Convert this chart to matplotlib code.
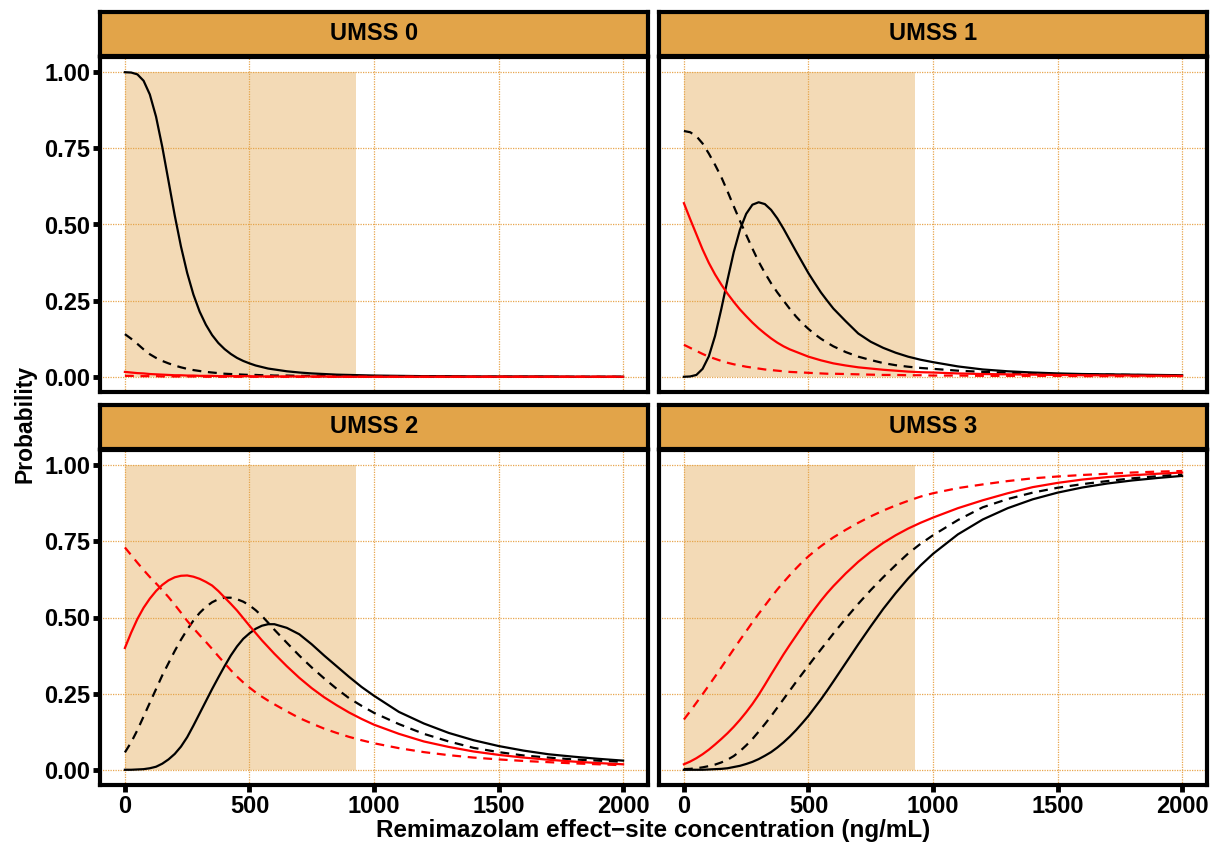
import matplotlib
matplotlib.use("Agg")
import matplotlib.pyplot as plt

plt.rcParams['font.family'] = ['Liberation Sans', 'DejaVu Sans']

# concentration grid (ng/mL)
conc = [0, 25, 50, 75, 100, 125, 150, 175, 200, 225, 250, 275, 300, 325, 350, 375, 400,
        425, 450, 475, 500, 525, 550, 575, 600, 650, 700, 750, 800, 850, 900, 950, 1000,
        1100, 1200, 1300, 1400, 1500, 1600, 1700, 1800, 1900, 2000]

# UMSS 0
bs0 = [1.000, 0.999, 0.993, 0.972, 0.927, 0.854, 0.755, 0.643, 0.530, 0.428, 0.341, 0.270, 0.214,
       0.171, 0.137, 0.111, 0.091, 0.075, 0.062, 0.052, 0.044, 0.037, 0.032, 0.027, 0.024,
       0.018, 0.014, 0.011, 0.009, 0.007, 0.006, 0.005, 0.004,
       0.003, 0.002, 0.002, 0.001, 0.001, 0.001, 0.001, 0.000, 0.000, 0.000]
bd0 = [0.140, 0.125, 0.108, 0.090, 0.074, 0.062, 0.052, 0.044, 0.037, 0.031, 0.026, 0.022, 0.019,
       0.016, 0.014, 0.012, 0.010, 0.009, 0.008, 0.007, 0.006, 0.006, 0.005, 0.005, 0.004,
       0.004, 0.003, 0.003, 0.002, 0.002, 0.001, 0.001, 0.001,
       0.001, 0.000, 0.000, 0.000, 0.000, 0.000, 0.000, 0.000, 0.000, 0.000]
rs0 = [0.016, 0.014, 0.012, 0.011, 0.009, 0.008, 0.007, 0.006, 0.005, 0.005, 0.004, 0.004, 0.003,
       0.003, 0.003, 0.002, 0.002, 0.002, 0.002, 0.002, 0.002, 0.001, 0.001, 0.001, 0.001,
       0.001, 0.001, 0.001, 0.001, 0.000, 0.000, 0.000, 0.000,
       0.000, 0.000, 0.000, 0.000, 0.000, 0.000, 0.000, 0.000, 0.000, 0.000]
rd0 = [0.003, 0.003, 0.002, 0.002, 0.002, 0.002, 0.001, 0.001, 0.001, 0.001, 0.001, 0.001, 0.001,
       0.000, 0.000, 0.000, 0.000, 0.000, 0.000, 0.000, 0.000, 0.000, 0.000, 0.000, 0.000,
       0.000, 0.000, 0.000, 0.000, 0.000, 0.000, 0.000, 0.000,
       0.000, 0.000, 0.000, 0.000, 0.000, 0.000, 0.000, 0.000, 0.000, 0.000]

# UMSS 1
bs1 = [0.000, 0.001, 0.006, 0.026, 0.067, 0.134, 0.222, 0.318, 0.409, 0.483, 0.535, 0.565, 0.573,
       0.567, 0.548, 0.520, 0.486, 0.449, 0.412, 0.376, 0.340, 0.308, 0.277, 0.250, 0.224,
       0.182, 0.142, 0.115, 0.095, 0.079, 0.066, 0.056, 0.048,
       0.034, 0.024, 0.018, 0.014, 0.011, 0.009, 0.008, 0.007, 0.006, 0.005]
bd1 = [0.807, 0.803, 0.790, 0.766, 0.733, 0.696, 0.656, 0.609, 0.560, 0.512, 0.466, 0.421, 0.378,
       0.341, 0.307, 0.277, 0.250, 0.223, 0.198, 0.176, 0.157, 0.140, 0.125, 0.112, 0.100,
       0.081, 0.066, 0.055, 0.045, 0.038, 0.033, 0.029, 0.026,
       0.020, 0.016, 0.013, 0.011, 0.009, 0.008, 0.007, 0.006, 0.005, 0.004]
rs1 = [0.570, 0.518, 0.468, 0.418, 0.374, 0.336, 0.303, 0.273, 0.246, 0.221, 0.199, 0.178, 0.159,
       0.142, 0.126, 0.112, 0.100, 0.090, 0.082, 0.074, 0.066, 0.060, 0.054, 0.049, 0.044,
       0.037, 0.031, 0.027, 0.023, 0.020, 0.017, 0.015, 0.014,
       0.011, 0.009, 0.008, 0.007, 0.006, 0.005, 0.0045, 0.004, 0.0035, 0.003]
rd1 = [0.105, 0.095, 0.085, 0.075, 0.066, 0.059, 0.052, 0.046, 0.041, 0.037, 0.033, 0.030, 0.027,
       0.024, 0.022, 0.020, 0.018, 0.016, 0.015, 0.014, 0.013, 0.012, 0.011, 0.010, 0.010,
       0.009, 0.008, 0.007, 0.006, 0.006, 0.005, 0.005, 0.004,
       0.004, 0.003, 0.003, 0.003, 0.003, 0.002, 0.002, 0.002, 0.002, 0.002]

# UMSS 2
bs2 = [0.000, 0.000, 0.001, 0.002, 0.005, 0.010, 0.020, 0.034, 0.052, 0.076, 0.107, 0.145, 0.185,
       0.225, 0.265, 0.303, 0.340, 0.375, 0.405, 0.430, 0.448, 0.463, 0.473, 0.478, 0.478,
       0.466, 0.445, 0.412, 0.375, 0.340, 0.305, 0.272, 0.243,
       0.190, 0.152, 0.121, 0.097, 0.078, 0.063, 0.051, 0.043, 0.036, 0.030]
bd2 = [0.057, 0.090, 0.130, 0.175, 0.220, 0.265, 0.310, 0.350, 0.390, 0.427, 0.460, 0.490, 0.515,
       0.535, 0.550, 0.560, 0.565, 0.565, 0.560, 0.552, 0.540, 0.524, 0.505, 0.483, 0.460,
       0.417, 0.375, 0.336, 0.300, 0.266, 0.235, 0.210, 0.187,
       0.150, 0.118, 0.093, 0.072, 0.058, 0.047, 0.040, 0.034, 0.030, 0.026]
rs2 = [0.400, 0.450, 0.495, 0.532, 0.562, 0.587, 0.607, 0.622, 0.632, 0.637, 0.638, 0.634, 0.627,
       0.617, 0.605, 0.587, 0.566, 0.545, 0.523, 0.498, 0.473, 0.449, 0.425, 0.403, 0.381,
       0.340, 0.302, 0.268, 0.238, 0.212, 0.188, 0.167, 0.148,
       0.118, 0.093, 0.075, 0.060, 0.049, 0.040, 0.033, 0.027, 0.022, 0.018]
rd2 = [0.730, 0.705, 0.680, 0.656, 0.633, 0.612, 0.590, 0.567, 0.542, 0.516, 0.489, 0.465, 0.442,
       0.420, 0.397, 0.373, 0.350, 0.327, 0.306, 0.287, 0.270, 0.254, 0.240, 0.227, 0.215,
       0.192, 0.170, 0.152, 0.135, 0.121, 0.108, 0.097, 0.087,
       0.071, 0.058, 0.048, 0.040, 0.034, 0.029, 0.025, 0.021, 0.018, 0.015]

# UMSS 3
bs3 = [0.000, 0.000, 0.000, 0.000, 0.001, 0.002, 0.003, 0.005, 0.009, 0.013, 0.019, 0.026, 0.035,
       0.046, 0.058, 0.073, 0.090, 0.109, 0.130, 0.153, 0.177, 0.204, 0.231, 0.260, 0.290,
       0.351, 0.412, 0.471, 0.528, 0.580, 0.628, 0.671, 0.709,
       0.773, 0.822, 0.859, 0.888, 0.910, 0.927, 0.940, 0.950, 0.958, 0.965]
bd3 = [0.002, 0.003, 0.005, 0.008, 0.012, 0.017, 0.024, 0.033, 0.045, 0.061, 0.080, 0.101, 0.125,
       0.150, 0.176, 0.204, 0.232, 0.260, 0.288, 0.315, 0.342, 0.369, 0.395, 0.421, 0.447,
       0.497, 0.545, 0.590, 0.632, 0.672, 0.710, 0.742, 0.770,
       0.820, 0.862, 0.889, 0.910, 0.926, 0.938, 0.948, 0.957, 0.964, 0.970]
rs3 = [0.018, 0.027, 0.038, 0.051, 0.066, 0.083, 0.101, 0.120, 0.141, 0.164, 0.189, 0.216, 0.246,
       0.279, 0.313, 0.346, 0.379, 0.410, 0.440, 0.470, 0.500, 0.528, 0.555, 0.580, 0.603,
       0.645, 0.683, 0.716, 0.745, 0.770, 0.792, 0.811, 0.828,
       0.859, 0.885, 0.908, 0.928, 0.942, 0.953, 0.961, 0.967, 0.972, 0.976]
rd3 = [0.165, 0.192, 0.220, 0.248, 0.277, 0.306, 0.336, 0.366, 0.396, 0.426, 0.455, 0.484, 0.512,
       0.539, 0.566, 0.592, 0.616, 0.639, 0.661, 0.682, 0.701, 0.718, 0.734, 0.749, 0.763,
       0.788, 0.811, 0.832, 0.851, 0.868, 0.883, 0.897, 0.908,
       0.925, 0.937, 0.948, 0.957, 0.963, 0.968, 0.972, 0.976, 0.979, 0.981]

panel_titles = ['UMSS 0', 'UMSS 1', 'UMSS 2', 'UMSS 3']
panel_data = [(bs0, bd0, rs0, rd0), (bs1, bd1, rs1, rd1),
              (bs2, bd2, rs2, rd2), (bs3, bd3, rs3, rd3)]
shade_end = 928
x_ticks = [0, 500, 1000, 1500, 2000]
y_ticks = [0.00, 0.25, 0.50, 0.75, 1.00]

strip_col = '#E2A449'
grid_col = '#E8A64F'

W, H = 1212, 848
fig = plt.figure(figsize=(W / 100, H / 100), dpi=100)

# pixel boxes
lefts = [100, 659]
tops = [57, 450]
pw, ph = 548, 335
strip_h = 44

for i, title in enumerate(panel_titles):
    row, col = divmod(i, 2)
    l, t = lefts[col], tops[row]
    ax = fig.add_axes([l / W, 1 - (t + ph) / H, pw / W, ph / H])
    ax.set_xlim(-100, 2100)
    ax.set_ylim(-0.05, 1.05)
    ax.fill_between([0, shade_end], 0, 1, color=strip_col, alpha=0.4, lw=0, zorder=1)
    ax.set_xticks(x_ticks)
    ax.set_yticks(y_ticks)
    ax.grid(True, linestyle=(0, (1, 1)), color=grid_col, lw=0.9, zorder=0)
    ax.set_axisbelow(True)

    bs, bd, rs, rd = panel_data[i]
    ax.plot(conc, bs, color='black', lw=1.6, zorder=3)
    ax.plot(conc, bd, color='black', lw=1.6, ls=(0, (4, 3)), zorder=3)
    ax.plot(conc, rs, color='#FF0000', lw=1.6, zorder=3)
    ax.plot(conc, rd, color='#FF0000', lw=1.6, ls=(0, (4, 3)), zorder=3)

    for s in ax.spines.values():
        s.set_linewidth(3)
        s.set_color('black')

    ax.tick_params(axis='both', direction='out', length=5, width=3.5, pad=2,
                   labelsize=17, color='black')
    if col == 0:
        ax.set_yticklabels(['0.00', '0.25', '0.50', '0.75', '1.00'], fontweight='bold')
    else:
        ax.tick_params(axis='y', left=False, labelleft=False)
    if row == 1:
        ax.set_xticklabels([str(v) for v in x_ticks], fontweight='bold')
    else:
        ax.tick_params(axis='x', bottom=False, labelbottom=False)

    # facet strip
    sax = fig.add_axes([l / W, 1 - (t - 1) / H, pw / W, strip_h / H])
    sax.set_facecolor(strip_col)
    sax.set_xticks([])
    sax.set_yticks([])
    for s in sax.spines.values():
        s.set_linewidth(3)
        s.set_color('black')
    sax.text(0.5, 0.5, title, ha='center', va='center', fontsize=17,
             fontweight='bold', transform=sax.transAxes)

fig.text(653 / W, 1 - 830 / H, 'Remimazolam effect\u2212site concentration (ng/mL)',
         ha='center', va='center', fontsize=17.5, fontweight='bold')
fig.text(25 / W, 1 - 424 / H, 'Probability', ha='center', va='center',
         fontsize=16.5, fontweight='bold', rotation=90)

fig.savefig('out.png', dpi=100)
